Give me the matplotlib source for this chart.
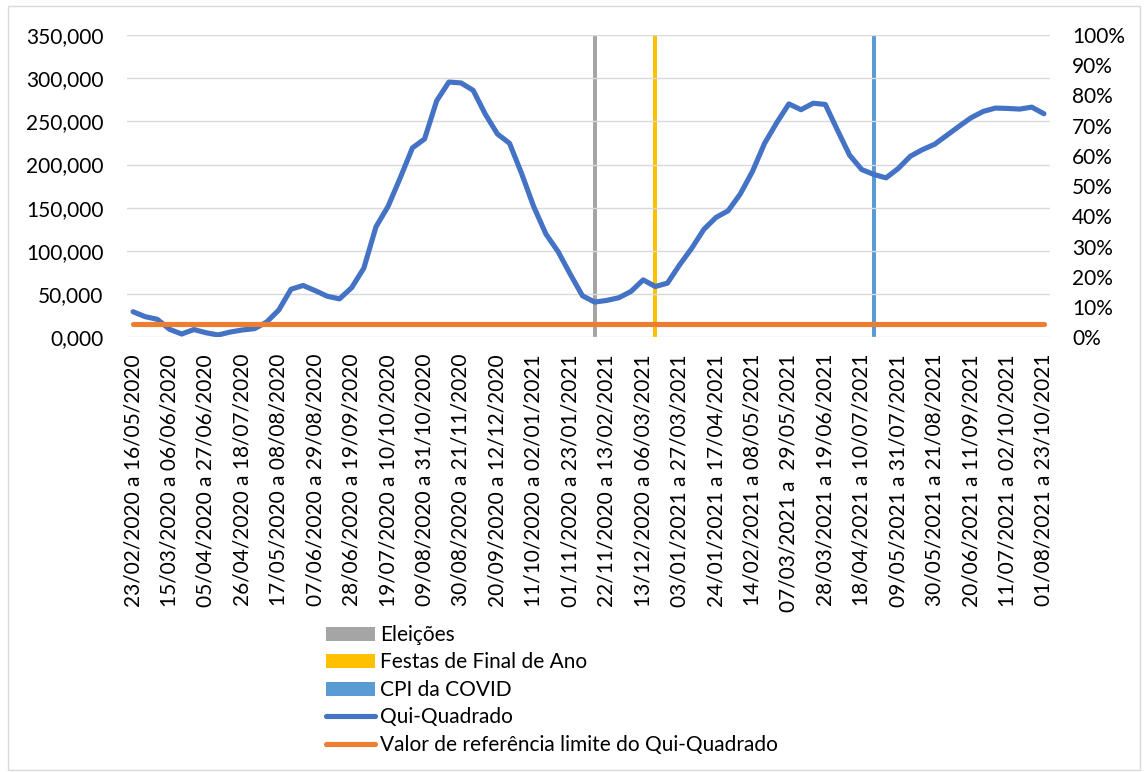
import matplotlib
matplotlib.use("Agg")
import matplotlib.pyplot as plt
from matplotlib.patches import Rectangle, Patch
from matplotlib.lines import Line2D
from matplotlib.ticker import FuncFormatter, MultipleLocator
import numpy as np

# Weekly chi-square statistic (76 rolling windows)
qui_quadrado = [
    29.6, 23.9, 20.8, 9.3, 3.8, 9.0, 5.3, 2.7, 6.1, 8.5,
    10.0, 17.7, 31.6, 55.6, 60.0, 54.0, 47.5, 44.5, 57.5, 80.0,
    127.9, 151.7, 184.7, 219.3, 229.6, 273.8, 295.5, 294.5, 286.0, 258.4,
    235.4, 224.6, 189.3, 150.9, 119.4, 99.1, 73.0, 48.1, 40.8, 42.7,
    45.8, 53.1, 66.5, 58.8, 62.7, 83.8, 103.1, 125.0, 138.8, 146.5,
    166.0, 192.0, 224.6, 248.5, 270.2, 263.5, 271.0, 269.6, 239.8, 210.8,
    194.2, 188.5, 184.6, 195.4, 209.6, 217.3, 223.5, 233.8, 244.2, 254.2,
    261.5, 265.4, 265.0, 264.2, 266.5, 258.8,
]
valor_referencia = 15.507

# Tick labels, one every third window
tick_labels = [
    "23/02/2020 a 16/05/2020", "15/03/2020 a 06/06/2020", "05/04/2020 a 27/06/2020",
    "26/04/2020 a 18/07/2020", "17/05/2020 a 08/08/2020", "07/06/2020 a 29/08/2020",
    "28/06/2020 a 19/09/2020", "19/07/2020 a 10/10/2020", "09/08/2020 a 31/10/2020",
    "30/08/2020 a 21/11/2020", "20/09/2020 a 12/12/2020", "11/10/2020 a 02/01/2021",
    "01/11/2020 a 23/01/2021", "22/11/2020 a 13/02/2021", "13/12/2020 a 06/03/2021",
    "03/01/2021 a 27/03/2021", "24/01/2021 a 17/04/2021", "14/02/2021 a 08/05/2021",
    "07/03/2021 a  29/05/2021", "28/03/2021 a 19/06/2021", "18/04/2021 a 10/07/2021",
    "09/05/2021 a 31/07/2021", "30/05/2021 a 21/08/2021", "20/06/2021 a 11/09/2021",
    "11/07/2021 a 02/10/2021", "01/08/2021 a 23/10/2021",
]
tick_step = 3

# Event markers (full-height columns on the percentage axis)
eventos = ["Eleições", "Festas de Final de Ano", "CPI da COVID"]
evento_idx = [38, 43, 61]
evento_valor = [1.0, 1.0, 1.0]
evento_cores = ["#A5A5A5", "#FFC000", "#5B9BD5"]

plt.rcParams["font.family"] = ["Lato", "DejaVu Sans"]
FS = 15
W, H = 1144, 772
fig = plt.figure(figsize=(W / 100, H / 100), dpi=100)

# chart-area border
fig.add_artist(Rectangle((8 / W, 1 - 770 / H), (1140 - 8) / W, (770 - 6) / H,
                         transform=fig.transFigure, fill=False,
                         edgecolor="#D9D9D9", linewidth=1.0))

left, right, top, bottom = 127 / W, 1050 / W, 35 / H, 337.3 / H
ax = fig.add_axes([left, 1 - bottom, right - left, bottom - top])
ax2 = ax.twinx()

n = len(qui_quadrado)
x = np.arange(n)

# event columns
ax2.bar(evento_idx, evento_valor, width=0.32, color=evento_cores, zorder=1)
ax2.set_ylim(0, 1)
ax2.yaxis.set_major_locator(MultipleLocator(0.1))
ax2.yaxis.set_major_formatter(FuncFormatter(lambda v, p: f"{v * 100:.0f}%"))

ax.set_zorder(ax2.get_zorder() + 1)
ax.patch.set_visible(False)

ax.plot(x, qui_quadrado, color="#4472C4", linewidth=3.7, solid_joinstyle="round",
        solid_capstyle="round", zorder=3)
ax.plot(x, [valor_referencia] * n, color="#ED7D31", linewidth=3.7,
        solid_capstyle="round", zorder=3)

ax.set_xlim(-0.5, n - 0.5)
ax2.set_xlim(-0.5, n - 0.5)
ax.set_ylim(0, 350)
ax.yaxis.set_major_locator(MultipleLocator(50))
ax.yaxis.set_major_formatter(FuncFormatter(lambda v, p: f"{v:.3f}".replace(".", ",")))
ax.grid(axis="y", color="#D9D9D9", linewidth=1.0)
ax.set_axisbelow(True)
ax2.grid(False)

ax.set_xticks(x[::tick_step])
ax.set_xticklabels(tick_labels, rotation=90, ha="center", va="top")

for a in (ax, ax2):
    for s in a.spines.values():
        s.set_visible(False)
    a.tick_params(length=0, labelsize=FS, colors="#000000")
ax.tick_params(axis="y", pad=17)
ax2.tick_params(axis="y", pad=16)
ax.tick_params(axis="x", pad=12)

handles = [Patch(facecolor=c, edgecolor="none") for c in evento_cores]
handles += [Line2D([], [], color="#4472C4", linewidth=3.7, solid_capstyle="round"),
            Line2D([], [], color="#ED7D31", linewidth=3.7, solid_capstyle="round")]
labels = eventos + ["Qui-Quadrado", "Valor de referência limite do Qui-Quadrado"]
fig.legend(handles, labels, loc="upper left", bbox_to_anchor=(326 / W, 1 - 625 / H),
           frameon=False, fontsize=FS, handlelength=2.35, handleheight=0.68,
           handletextpad=0.25, labelspacing=0.36, borderpad=0, borderaxespad=0)

fig.savefig("out.png", dpi=100)
